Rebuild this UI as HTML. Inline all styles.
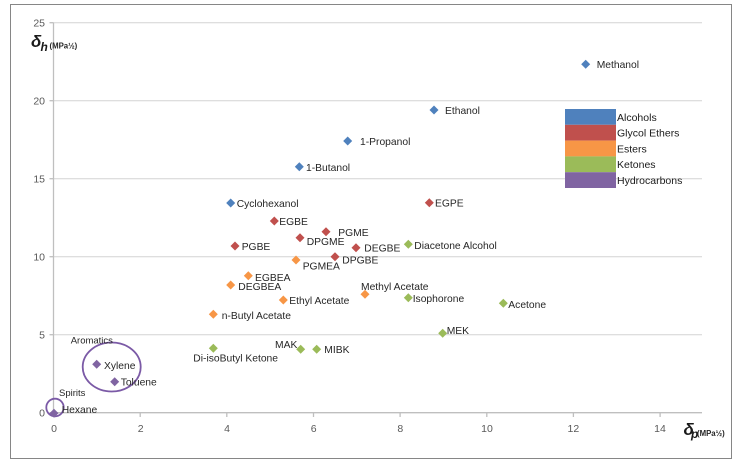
<!DOCTYPE html>
<html><head><meta charset="utf-8"><style>
html,body{margin:0;padding:0;background:#fff;}
svg{display:block;}
text{font-family:"Liberation Sans",sans-serif;}
</style></head><body>
<svg width="736" height="461" viewBox="0 0 736 461" xmlns="http://www.w3.org/2000/svg">
<rect x="0" y="0" width="736" height="461" fill="#fff"/>
<rect x="10.5" y="4.5" width="721" height="454" fill="none" stroke="#868686" stroke-width="1"/>
<!-- gridlines -->
<g stroke="#d4d4d4" stroke-width="1">
<line x1="53.5" y1="22.7" x2="702" y2="22.7"/>
<line x1="53.5" y1="100.7" x2="702" y2="100.7"/>
<line x1="53.5" y1="178.7" x2="702" y2="178.7"/>
<line x1="53.5" y1="256.7" x2="702" y2="256.7"/>
<line x1="53.5" y1="334.7" x2="702" y2="334.7"/>
</g>
<!-- axes -->
<g stroke="#bfbfbf" stroke-width="1.3">
<line x1="53.5" y1="22.7" x2="53.5" y2="413"/>
<line x1="53.5" y1="412.7" x2="702" y2="412.7"/>
<line x1="49.5" y1="22.7" x2="53.5" y2="22.7"/>
<line x1="49.5" y1="100.7" x2="53.5" y2="100.7"/>
<line x1="49.5" y1="178.7" x2="53.5" y2="178.7"/>
<line x1="49.5" y1="256.7" x2="53.5" y2="256.7"/>
<line x1="49.5" y1="334.7" x2="53.5" y2="334.7"/>
<line x1="49.5" y1="412.7" x2="53.5" y2="412.7"/>
<line x1="53.5" y1="412.7" x2="53.5" y2="417"/>
<line x1="140.2" y1="412.7" x2="140.2" y2="417"/>
<line x1="226.8" y1="412.7" x2="226.8" y2="417"/>
<line x1="313.5" y1="412.7" x2="313.5" y2="417"/>
<line x1="400.1" y1="412.7" x2="400.1" y2="417"/>
<line x1="486.8" y1="412.7" x2="486.8" y2="417"/>
<line x1="573.4" y1="412.7" x2="573.4" y2="417"/>
<line x1="660.1" y1="412.7" x2="660.1" y2="417"/>
</g>
<!-- tick labels -->
<g fill="#595959" font-size="10.5">
<g text-anchor="end">
<text x="45" y="26.5">25</text>
<text x="45" y="104.5">20</text>
<text x="45" y="182.5">15</text>
<text x="45" y="260.5">10</text>
<text x="45" y="338.5">5</text>
<text x="45" y="416.5">0</text>
</g>
<g text-anchor="middle">
<text x="54" y="432">0</text>
<text x="140.7" y="432">2</text>
<text x="227" y="432">4</text>
<text x="313.7" y="432">6</text>
<text x="400.3" y="432">8</text>
<text x="487" y="432">10</text>
<text x="573.4" y="432">12</text>
<text x="660" y="432">14</text>
</g>
</g>
<!-- axis titles -->
<text x="31" y="47" font-family="Liberation Serif,serif" font-style="italic" font-weight="bold" font-size="17" fill="#1a1a1a">δ</text>
<text x="40.5" y="51" font-family="Liberation Serif,serif" font-style="italic" font-weight="bold" font-size="12" fill="#1a1a1a">h</text>
<text x="49.5" y="48.5" font-size="7.8" font-weight="bold" fill="#262626">(MPa½)</text>
<text x="683.5" y="435" font-family="Liberation Serif,serif" font-style="italic" font-weight="bold" font-size="17" fill="#1a1a1a">δ</text>
<text x="691" y="438" font-family="Liberation Serif,serif" font-style="italic" font-weight="bold" font-size="12" fill="#1a1a1a">p</text>
<text x="697" y="436" font-size="7.8" font-weight="bold" fill="#262626">(MPa½)</text>
<!-- legend -->
<rect x="565" y="109" width="51" height="15.8" fill="#4F81BD"/>
<rect x="565" y="124.8" width="51" height="15.8" fill="#C0504D"/>
<rect x="565" y="140.6" width="51" height="15.8" fill="#F79646"/>
<rect x="565" y="156.4" width="51" height="15.8" fill="#9BBB59"/>
<rect x="565" y="172.2" width="51" height="15.8" fill="#8064A2"/>
<g fill="#1a1a1a" font-size="10.5">
<text x="617" y="120.8">Alcohols</text>
<text x="617" y="136.5">Glycol Ethers</text>
<text x="617" y="152.3">Esters</text>
<text x="617" y="168">Ketones</text>
<text x="617" y="183.8">Hydrocarbons</text>
</g>
<!-- circles -->
<ellipse cx="111.7" cy="367" rx="29" ry="24.5" fill="none" stroke="#7B5AA6" stroke-width="1.8"/>
<ellipse cx="55" cy="407.5" rx="8.7" ry="8.8" fill="none" stroke="#7B5AA6" stroke-width="1.8"/>
<!-- markers -->
<g fill="#4F81BD">
<polygon points="585.7,59.8 590.2,64.3 585.7,68.8 581.2,64.3"/>
<polygon points="434,105.5 438.5,110 434,114.5 429.5,110"/>
<polygon points="347.7,136.5 352.2,141 347.7,145.5 343.2,141"/>
<polygon points="299.3,162.2 303.8,166.7 299.3,171.2 294.8,166.7"/>
<polygon points="230.7,198.5 235.2,203 230.7,207.5 226.2,203"/>
</g>
<g fill="#C0504D">
<polygon points="429.3,198.2 433.8,202.7 429.3,207.2 424.8,202.7"/>
<polygon points="274.3,216.5 278.8,221 274.3,225.5 269.8,221"/>
<polygon points="326,227.2 330.5,231.7 326,236.2 321.5,231.7"/>
<polygon points="300,233.2 304.5,237.7 300,242.2 295.5,237.7"/>
<polygon points="235,241.5 239.5,246 235,250.5 230.5,246"/>
<polygon points="356,243.2 360.5,247.7 356,252.2 351.5,247.7"/>
<polygon points="335,252.2 339.5,256.7 335,261.2 330.5,256.7"/>
</g>
<g fill="#F79646">
<polygon points="296,255.5 300.5,260 296,264.5 291.5,260"/>
<polygon points="248.3,271.2 252.8,275.7 248.3,280.2 243.8,275.7"/>
<polygon points="230.7,280.5 235.2,285 230.7,289.5 226.2,285"/>
<polygon points="283.3,295.5 287.8,300 283.3,304.5 278.8,300"/>
<polygon points="365,289.8 369.5,294.3 365,298.8 360.5,294.3"/>
<polygon points="213.3,309.8 217.8,314.3 213.3,318.8 208.8,314.3"/>
</g>
<g fill="#9BBB59">
<polygon points="408.3,239.8 412.8,244.3 408.3,248.8 403.8,244.3"/>
<polygon points="408.3,293.2 412.8,297.7 408.3,302.2 403.8,297.7"/>
<polygon points="503.3,298.8 507.8,303.3 503.3,307.8 498.8,303.3"/>
<polygon points="442.7,328.8 447.2,333.3 442.7,337.8 438.2,333.3"/>
<polygon points="213.3,343.8 217.8,348.3 213.3,352.8 208.8,348.3"/>
<polygon points="300.7,344.8 305.2,349.3 300.7,353.8 296.2,349.3"/>
<polygon points="316.7,344.8 321.2,349.3 316.7,353.8 312.2,349.3"/>
</g>
<g fill="#8064A2">
<polygon points="96.7,359.8 101.2,364.3 96.7,368.8 92.2,364.3"/>
<polygon points="114.7,377.2 119.2,381.7 114.7,386.2 110.2,381.7"/>
<polygon points="54,408.8 58.5,413.3 54,417.8 49.5,413.3"/>
</g>
<!-- data labels -->
<g fill="#262626" font-size="10.3">
<text x="596.7" y="68.1">Methanol</text>
<text x="445" y="113.8">Ethanol</text>
<text x="360" y="144.8">1-Propanol</text>
<text x="306" y="170.8">1-Butanol</text>
<text x="236.7" y="206.8">Cyclohexanol</text>
<text x="435" y="206.5">EGPE</text>
<text x="279.3" y="224.8">EGBE</text>
<text x="338.3" y="235.8">PGME</text>
<text x="306.7" y="244.8">DPGME</text>
<text x="241.7" y="249.8">PGBE</text>
<text x="364.3" y="251.5">DEGBE</text>
<text x="342.3" y="263.5">DPGBE</text>
<text x="302.7" y="269.5">PGMEA</text>
<text x="255" y="281.1">EGBEA</text>
<text x="238.3" y="289.8">DEGBEA</text>
<text x="289.3" y="303.8">Ethyl Acetate</text>
<text x="361" y="289.8">Methyl Acetate</text>
<text x="221.7" y="318.8">n-Butyl Acetate</text>
<text x="414.3" y="248.8">Diacetone Alcohol</text>
<text x="412.7" y="301.8">Isophorone</text>
<text x="508.3" y="307.8">Acetone</text>
<text x="446.7" y="333.8">MEK</text>
<text x="193.3" y="361.5">Di-isoButyl Ketone</text>
<text x="275" y="347.8">MAK</text>
<text x="324.3" y="352.8">MIBK</text>
<text x="104" y="368.8">Xylene</text>
<text x="120.7" y="385.5">Toluene</text>
<text x="61.7" y="413.1">Hexane</text>
</g>
<g fill="#262626" font-size="9.5">
<text x="70.7" y="343.5">Aromatics</text>
<text x="59" y="396.2">Spirits</text>
</g>
</svg>
</body></html>
